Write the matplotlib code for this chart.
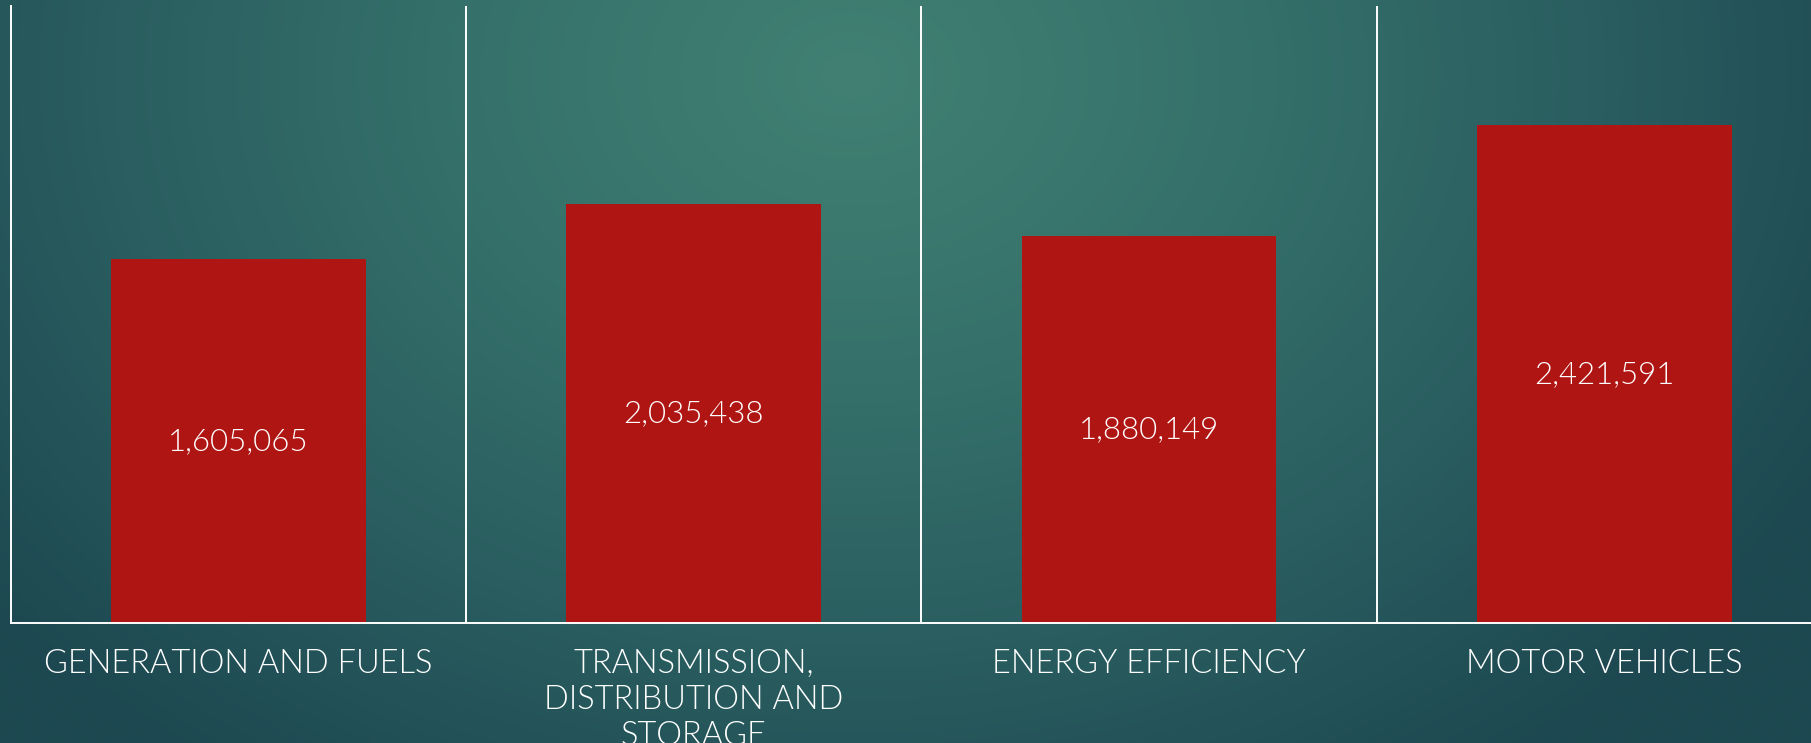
import numpy as np
import matplotlib
matplotlib.use("Agg")
import matplotlib.pyplot as plt
from matplotlib.colors import LinearSegmentedColormap

# ── data ───────────────────────────────────────────────────────
categories = ["GENERATION AND FUELS",
              "TRANSMISSION,\nDISTRIBUTION AND\nSTORAGE",
              "ENERGY EFFICIENCY",
              "MOTOR VEHICLES"]
# bar heights as drawn (first bar is drawn taller than its label says)
bar_heights = [1769000, 2035438, 1880149, 2421591]
value_labels = ["1,605,065", "2,035,438", "1,880,149", "2,421,591"]
y_max = 3000000

# ── figure + gradient background ───────────────────────────────
W_PX, H_PX = 1811, 743
fig = plt.figure(figsize=(W_PX / 100, H_PX / 100), dpi=100)

bg = fig.add_axes([0, 0, 1, 1], zorder=0)
yy, xx = np.mgrid[0:1:300j, 0:1:700j]
r = np.sqrt(((xx - 0.47) / 0.85) ** 2 + ((yy - 0.1) / 1.6) ** 2)
r = np.clip(r / 0.72, 0, 1)
cmap_bg = LinearSegmentedColormap.from_list(
    "teal", ["#418073", "#36726b", "#2a5e60", "#1d4851"])
bg.imshow(r, cmap=cmap_bg, extent=[0, 1, 0, 1], aspect="auto",
          origin="upper", interpolation="bicubic")
bg.axis("off")

# ── main axes ──────────────────────────────────────────────────
left_px, base_px, top_px = 11, 623.3, 6
slot_px = 455.2
ax = fig.add_axes([left_px / W_PX, (H_PX - base_px) / H_PX,
                   (W_PX - left_px) / W_PX, (base_px - top_px) / H_PX],
                  zorder=1)
ax.patch.set_alpha(0)

x = np.arange(len(categories))
ax.bar(x, bar_heights, width=0.56, color="#AF1512", zorder=2)

ax.set_xlim(-0.5, -0.5 + (W_PX - left_px) / slot_px)
ax.set_ylim(0, y_max)

for i, (h, lab) in enumerate(zip(bar_heights, value_labels)):
    ax.text(i, h / 2, lab, ha="center", va="center", color="white",
            fontsize=22.5, family="Lato", fontweight=300, zorder=3)

# separators between categories
ax.set_xticks(x[:-1] + 0.5, minor=True)
ax.grid(which="minor", axis="x", color="white", lw=1.4)
ax.set_yticks([])
ax.set_xticks(x)
ax.set_xticklabels(categories, color="white", fontsize=23.5, family="Lato",
                   fontweight=300, linespacing=1.24)
ax.tick_params(axis="x", which="both", length=0, pad=18.5)

for side in ["top", "right"]:
    ax.spines[side].set_visible(False)
for side in ["left", "bottom"]:
    ax.spines[side].set_color("white")
    ax.spines[side].set_linewidth(1.4)

fig.savefig("out.png", dpi=100)
